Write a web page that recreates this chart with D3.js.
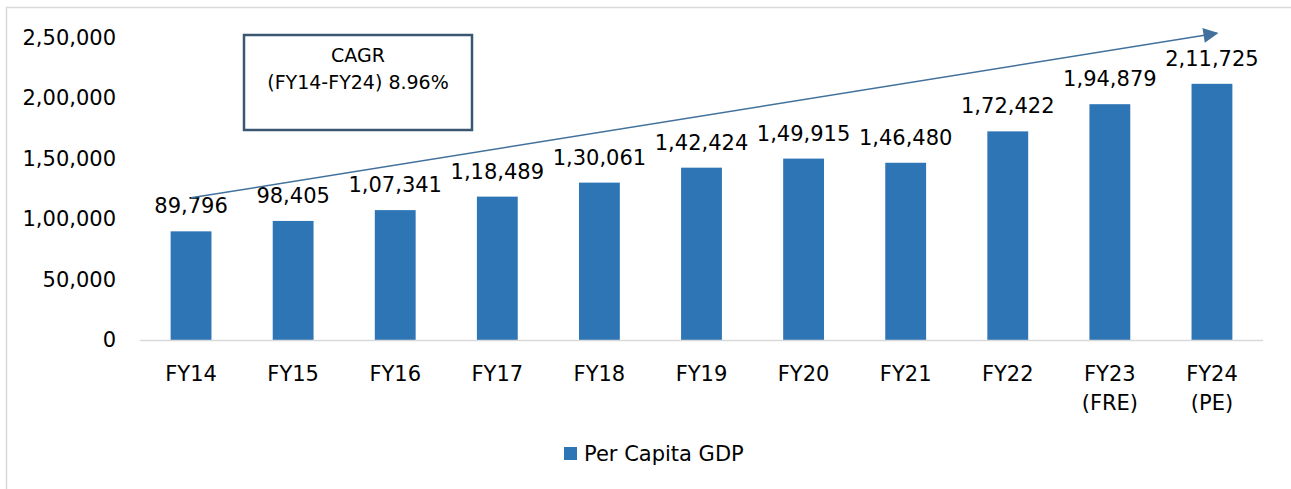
<!DOCTYPE html>
<html>
<head>
<meta charset="utf-8">
<script src="https://cdn.jsdelivr.net/npm/d3@7"></script>
<style>
  body { margin: 0; background: #fff; }
  svg { display: block; font-family: "DejaVu Sans", Verdana, sans-serif; }
</style>
</head>
<body>
<svg id="chart" width="1291" height="489"></svg>
<script>
// data
const years = ['FY14', 'FY15', 'FY16', 'FY17', 'FY18', 'FY19', 'FY20', 'FY21', 'FY22', 'FY23\n(FRE)', 'FY24\n(PE)'];
const perCapitaGdp = [89796, 98405, 107341, 118489, 130061, 142424, 149915, 146480, 172422, 194879, 211725];
const yTicks = [0, 50000, 100000, 150000, 200000, 250000];
const seriesName = 'Per Capita GDP';
const cagrLines = ['CAGR', '(FY14-FY24) 8.96%'];

const barColor = '#2e75b6';
const fontSize = 21;

// indian digit grouping: 2,50,000
const fmtIN = v => {
  const s = String(Math.round(v));
  if (s.length <= 3) return s;
  const last3 = s.slice(-3);
  const rest = s.slice(0, -3).replace(/\B(?=(\d{2})+(?!\d))/g, ',');
  return rest + ',' + last3;
};

const svg = d3.select('#chart');

// outer frame
svg.append('rect')
  .attr('x', 6.5).attr('y', 7.5).attr('width', 1300).attr('height', 500)
  .attr('fill', 'none').attr('stroke', '#d9d9d9').attr('stroke-width', 1.5);

const x = d3.scaleBand().domain(years).range([140, 1263]).paddingInner(0.6).paddingOuter(0.3);
const y = d3.scaleLinear().domain([0, 250000]).range([340, 37.5]);

/* Y AXIS */
const yAxis = d3.axisLeft(y).tickValues(yTicks).tickFormat(fmtIN).tickSize(0).tickPadding(24);
const yG = svg.append('g').attr('transform', 'translate(140,0)').call(yAxis);
yG.select('.domain').remove();
yG.selectAll('text').style('font-size', fontSize + 'px').attr('fill', '#000')
  .attr('font-family', '"DejaVu Sans", Verdana, sans-serif');

/* BARS */
svg.append('g').selectAll('rect').data(perCapitaGdp).join('rect')
  .attr('x', (d, i) => x(years[i]))
  .attr('y', d => y(d))
  .attr('width', x.bandwidth())
  .attr('height', d => y(0) - y(d))
  .attr('fill', barColor);

// baseline
svg.append('line')
  .attr('x1', x.range()[0]).attr('x2', x.range()[1])
  .attr('y1', y(0) + 0.5).attr('y2', y(0) + 0.5)
  .attr('stroke', '#d9d9d9').attr('stroke-width', 1.5);

/* X LABELS */
const xG = svg.append('g').selectAll('text').data(years).join('text')
  .attr('text-anchor', 'middle')
  .attr('x', d => x(d) + x.bandwidth() / 2)
  .attr('y', 381)
  .style('font-size', fontSize + 'px');
xG.selectAll('tspan').data(d => d.split('\n')).join('tspan')
  .attr('x', function () { return d3.select(this.parentNode).attr('x'); })
  .attr('dy', (d, i) => i === 0 ? 0 : 29)
  .text(d => d);

/* VALUE LABELS */
svg.append('g').selectAll('text').data(perCapitaGdp).join('text')
  .attr('text-anchor', 'middle')
  .attr('x', (d, i) => x(years[i]) + x.bandwidth() / 2)
  .attr('y', d => y(d) - 18)
  .style('font-size', fontSize + 'px')
  .text(fmtIN);

/* CAGR ARROW */
const defs = svg.append('defs');
defs.append('marker').attr('id', 'arrowhead')
  .attr('viewBox', '0 0 10 10').attr('refX', 9).attr('refY', 5)
  .attr('markerWidth', 17).attr('markerHeight', 15).attr('markerUnits', 'userSpaceOnUse')
  .attr('orient', 'auto')
  .append('path').attr('d', 'M0,0 L10,5 L0,10 Z').attr('fill', '#41719c');

const arrowFrom = { cat: years[0], value: 117500 };
const arrowTo = { cat: years[years.length - 1], value: 253500 };
svg.append('line')
  .attr('x1', x(arrowFrom.cat) + x.bandwidth() / 2)
  .attr('y1', y(arrowFrom.value))
  .attr('x2', x(arrowTo.cat) + x.bandwidth() / 2 + 5)
  .attr('y2', y(arrowTo.value))
  .attr('stroke', '#41719c').attr('stroke-width', 1.5)
  .attr('marker-end', 'url(#arrowhead)');

/* CAGR BOX */
const box = svg.append('g').attr('transform', 'translate(244,35)');
box.append('rect').attr('width', 228).attr('height', 95)
  .attr('fill', '#fff').attr('stroke', '#3b5670').attr('stroke-width', 2.5);
box.append('text').attr('text-anchor', 'middle').attr('x', 114).attr('y', 27)
  .style('font-size', '19px')
  .selectAll('tspan').data(cagrLines).join('tspan')
  .attr('x', 114).attr('dy', (d, i) => i === 0 ? 0 : 27)
  .text(d => d);

/* LEGEND */
const legend = svg.append('g').attr('transform', 'translate(564,447)');
legend.append('rect').attr('width', 13).attr('height', 13).attr('fill', barColor);
legend.append('text').attr('x', 20).attr('y', 13.5)
  .style('font-size', fontSize + 'px').text(seriesName);
</script>
</body>
</html>
